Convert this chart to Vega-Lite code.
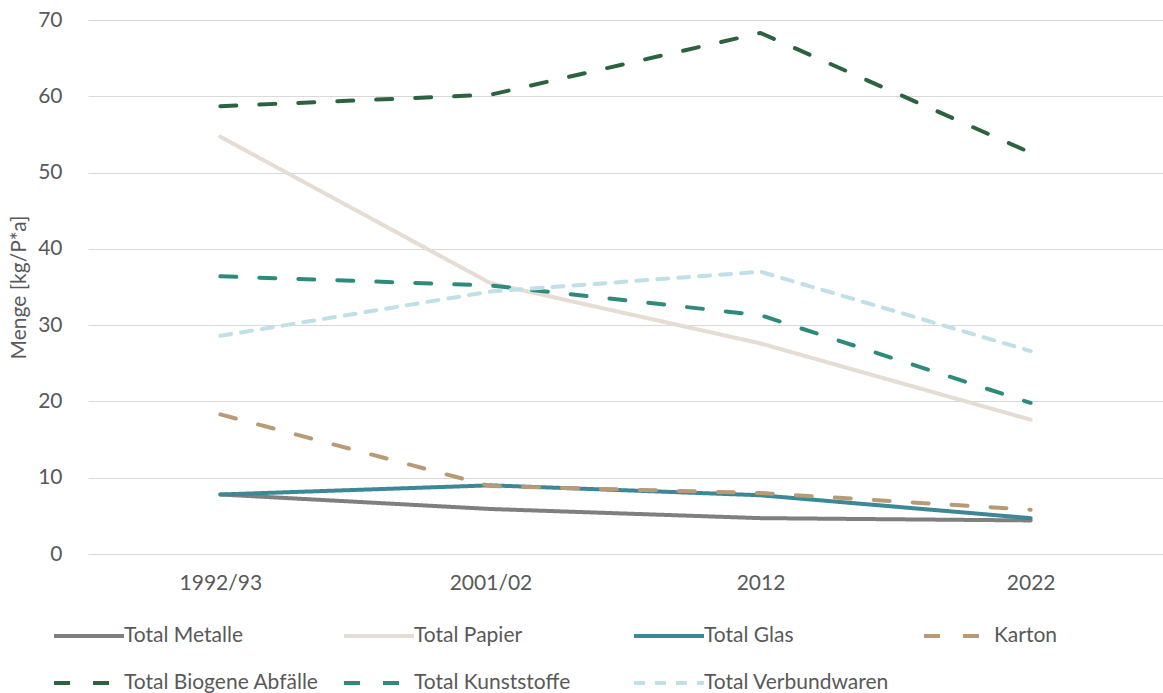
{
  "$schema": "https://vega.github.io/schema/vega-lite/v6.json",
  "autosize": "none",
  "width": 1075,
  "height": 534,
  "padding": {"left": 88, "top": 20, "right": 0, "bottom": 139},
  "background": "white",
  "config": {
    "font": "Lato",
    "view": {"stroke": null},
    "axis": {"labelFont": "Lato", "titleFont": "Lato", "labelColor": "#595959", "titleColor": "#595959", "labelFontSize": 21, "titleFontSize": 21, "titleFontWeight": "normal"},
    "legend": {"labelFont": "Lato", "labelColor": "#595959", "labelFontSize": 21}
  },
  "data": {
    "values": [
      {"jahr": "1992/93", "serie": "Total Metalle", "wert": 7.8},
      {"jahr": "2001/02", "serie": "Total Metalle", "wert": 5.9},
      {"jahr": "2012", "serie": "Total Metalle", "wert": 4.7},
      {"jahr": "2022", "serie": "Total Metalle", "wert": 4.4},
      {"jahr": "1992/93", "serie": "Total Papier", "wert": 54.7},
      {"jahr": "2001/02", "serie": "Total Papier", "wert": 35.5},
      {"jahr": "2012", "serie": "Total Papier", "wert": 27.6},
      {"jahr": "2022", "serie": "Total Papier", "wert": 17.6},
      {"jahr": "1992/93", "serie": "Total Glas", "wert": 7.8},
      {"jahr": "2001/02", "serie": "Total Glas", "wert": 9.0},
      {"jahr": "2012", "serie": "Total Glas", "wert": 7.7},
      {"jahr": "2022", "serie": "Total Glas", "wert": 4.7},
      {"jahr": "1992/93", "serie": "Karton", "wert": 18.3},
      {"jahr": "2001/02", "serie": "Karton", "wert": 8.9},
      {"jahr": "2012", "serie": "Karton", "wert": 8.0},
      {"jahr": "2022", "serie": "Karton", "wert": 5.8},
      {"jahr": "1992/93", "serie": "Total Biogene Abfälle", "wert": 58.7},
      {"jahr": "2001/02", "serie": "Total Biogene Abfälle", "wert": 60.2},
      {"jahr": "2012", "serie": "Total Biogene Abfälle", "wert": 68.3},
      {"jahr": "2022", "serie": "Total Biogene Abfälle", "wert": 52.6},
      {"jahr": "1992/93", "serie": "Total Kunststoffe", "wert": 36.4},
      {"jahr": "2001/02", "serie": "Total Kunststoffe", "wert": 35.2},
      {"jahr": "2012", "serie": "Total Kunststoffe", "wert": 31.3},
      {"jahr": "2022", "serie": "Total Kunststoffe", "wert": 19.8},
      {"jahr": "1992/93", "serie": "Total Verbundwaren", "wert": 28.6},
      {"jahr": "2001/02", "serie": "Total Verbundwaren", "wert": 34.4},
      {"jahr": "2012", "serie": "Total Verbundwaren", "wert": 37.0},
      {"jahr": "2022", "serie": "Total Verbundwaren", "wert": 26.6}
    ]
  },
  "mark": {"type": "line", "strokeWidth": 4, "strokeCap": "round", "strokeJoin": "round"},
  "encoding": {
    "x": {
      "field": "jahr", "type": "ordinal", "sort": ["1992/93", "2001/02", "2012", "2022"],
      "scale": {"type": "point", "padding": 0.49},
      "axis": {"title": null, "labelAngle": 0, "ticks": false, "domain": false, "grid": false, "labelPadding": 18}
    },
    "y": {
      "field": "wert", "type": "quantitative",
      "scale": {"domain": [0, 70]},
      "axis": {"title": "Menge [kg/P*a]", "values": [0, 10, 20, 30, 40, 50, 60, 70], "ticks": false, "domain": false, "grid": true, "gridColor": "#d9d9d9", "gridWidth": 1, "labelPadding": 26, "titlePadding": 8}
    },
    "color": {
      "field": "serie", "type": "nominal",
      "scale": {
        "domain": ["Total Metalle", "Total Papier", "Total Glas", "Karton", "Total Biogene Abfälle", "Total Kunststoffe", "Total Verbundwaren"],
        "range": ["#7f7f7f", "#e5ddd3", "#3c8896", "#b89a77", "#2b6240", "#2e8b7c", "#bfe0e6"]
      },
      "legend": {
        "title": null, "orient": "none", "legendX": -36, "legendY": 579, "direction": "horizontal", "columns": 4,
        "gridAlign": "all", "columnPadding": 17, "rowPadding": -20, "labelLimit": 300,
        "symbolType": "stroke", "symbolSize": 4900, "symbolStrokeWidth": 4, "labelOffset": -2
      }
    },
    "strokeDash": {
      "field": "serie", "type": "nominal",
      "scale": {
        "domain": ["Total Metalle", "Total Papier", "Total Glas", "Karton", "Total Biogene Abfälle", "Total Kunststoffe", "Total Verbundwaren"],
        "range": [[1, 0], [1, 0], [1, 0], [16, 23], [16, 23], [16, 23], [11, 10]]
      }
    }
  }
}
